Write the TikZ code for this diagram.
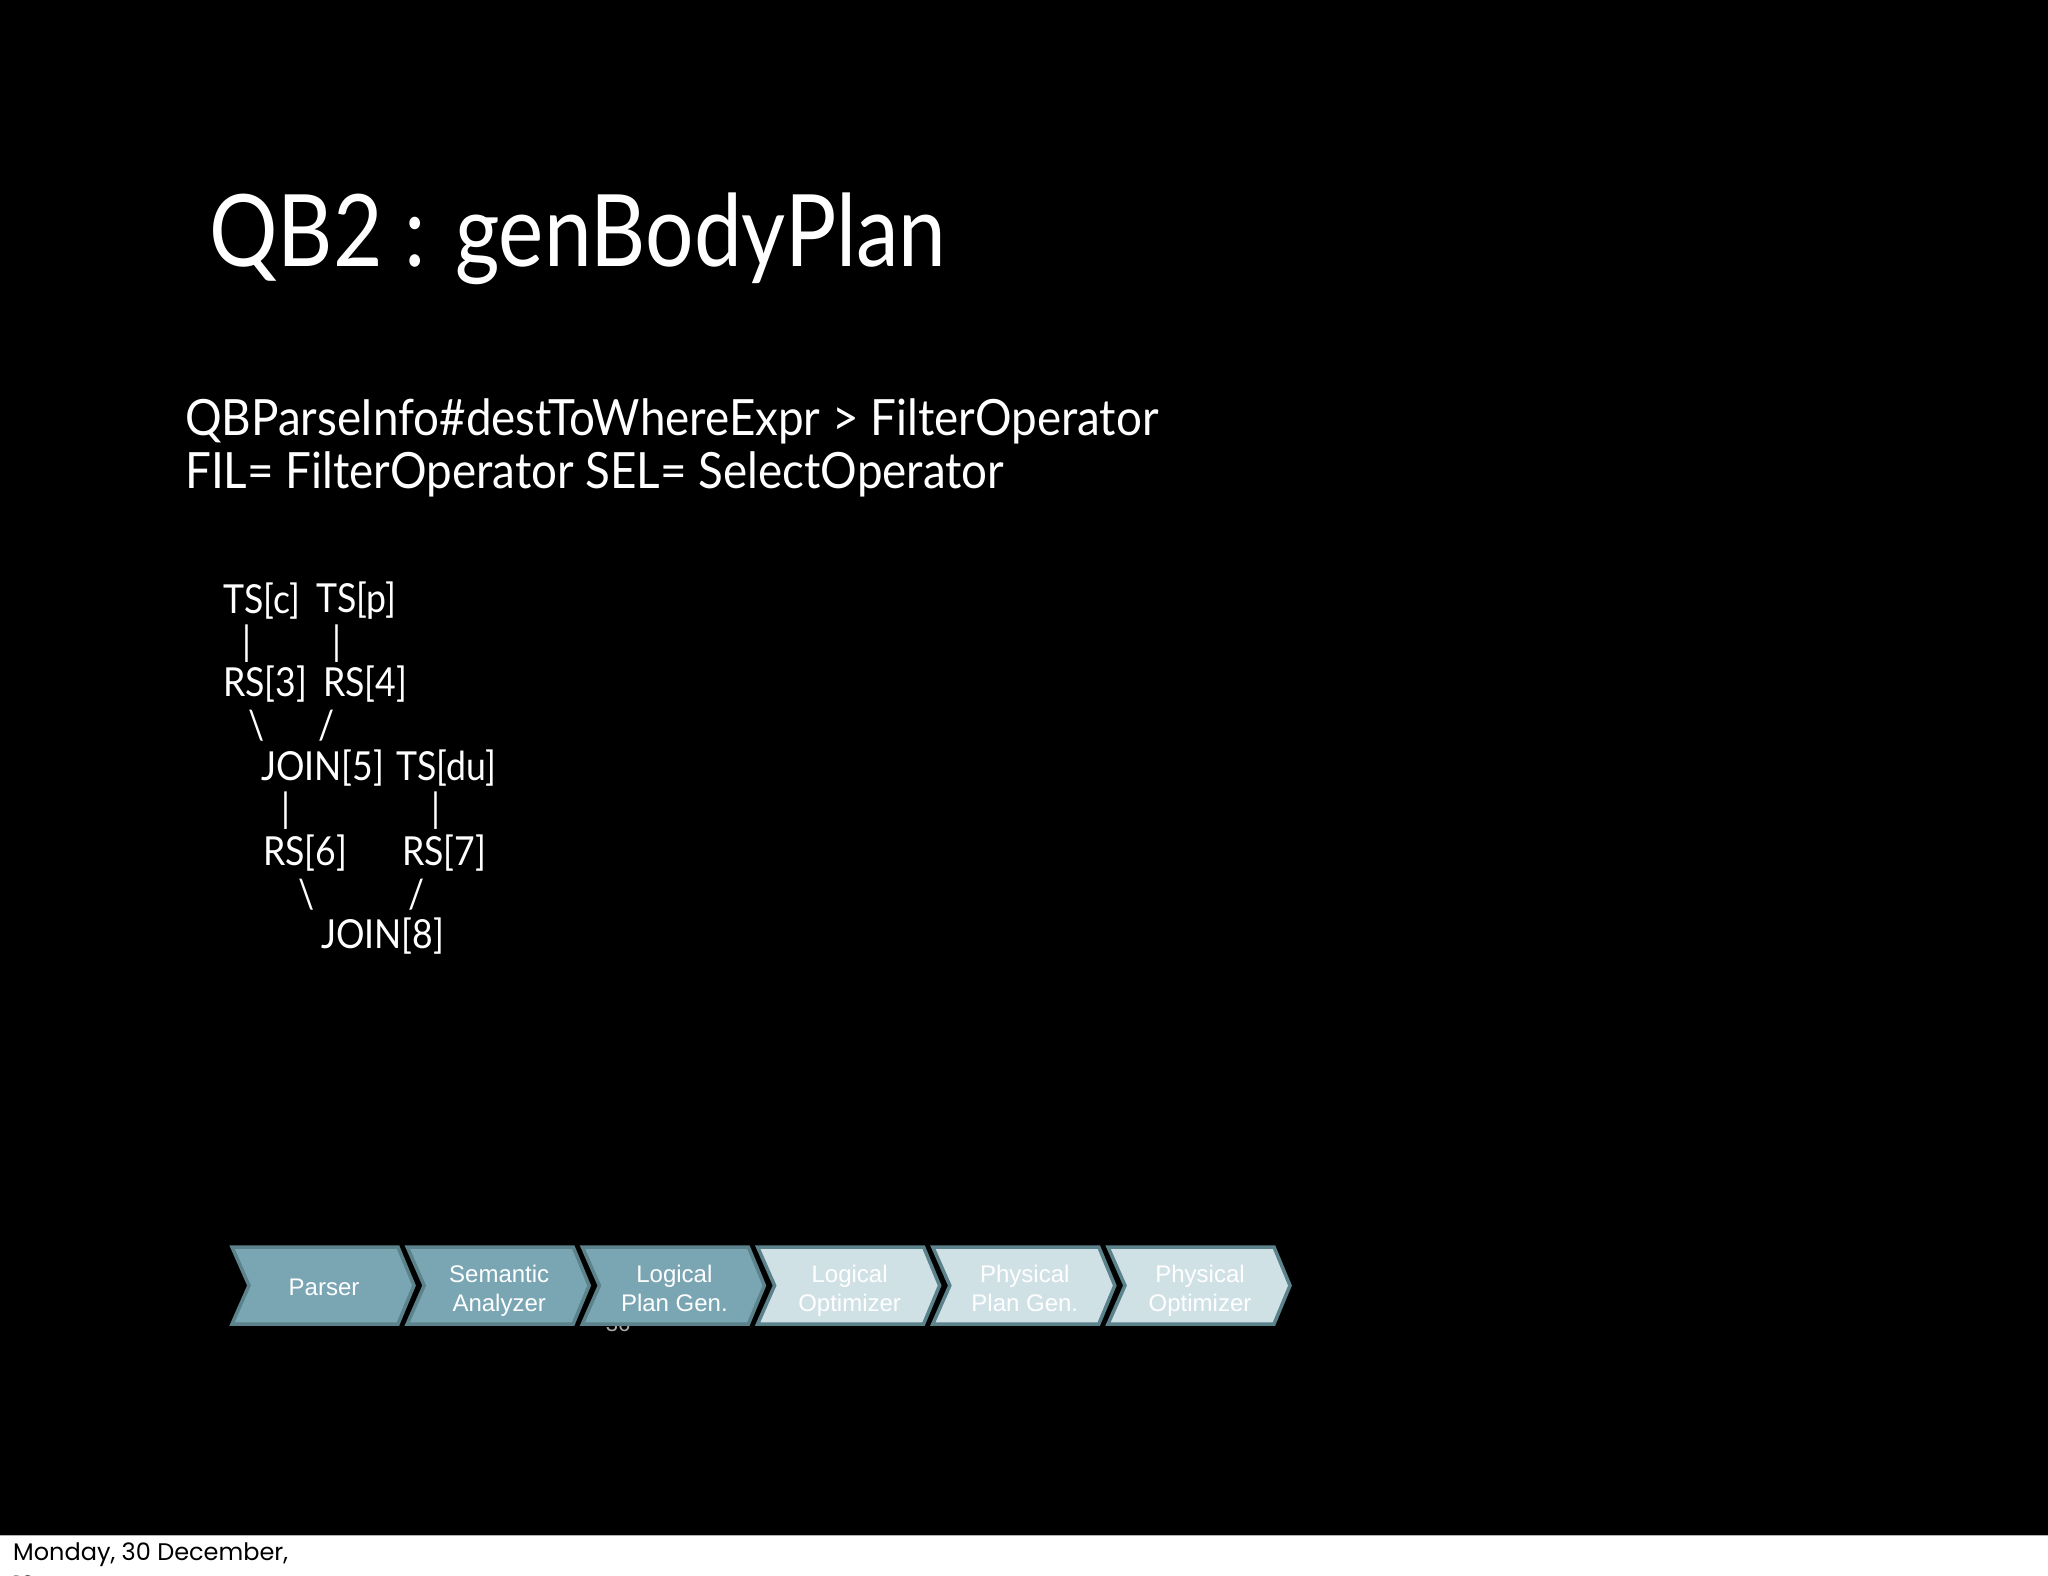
\documentclass[tikz,border=0pt]{standalone}
\usepackage{fontspec}
\setmainfont{Lato}
\newfontfamily\titlefont{Lato}[FakeStretch=0.855]
\newfontfamily\bodyfont{Lato}[FakeStretch=0.915]
\newfontfamily\treefont{Lato}[FakeStretch=0.89]
\newfontfamily\arialfont{Liberation Sans}
\newfontfamily\footfont{Poppins}
\definecolor{chevdark}{RGB}{122,166,179}
\definecolor{chevlight}{RGB}{208,225,230}
\definecolor{chevedge}{RGB}{92,130,140}
\definecolor{pagegray}{RGB}{170,170,170}
\tikzset{
  titletext/.style={text=white, inner sep=0pt, anchor=base west, font=\titlefont\fontsize{100}{110}\selectfont},
  bodytext/.style={text=white, inner sep=0pt, anchor=base west, font=\bodyfont\fontsize{50}{60}\selectfont},
  treetext/.style={text=white, inner sep=0pt, anchor=west, font=\treefont\fontsize{40}{48}\selectfont},
  treelink/.style={text=white, inner sep=0pt, anchor=center, font=\treefont\fontsize{40}{48}\selectfont},
  chevtext/.style={text=white, inner sep=0pt, align=center, font=\arialfont\fontsize{24}{29}\selectfont},
  chevshape/.style={line width=3.5pt, draw=chevedge, line join=miter},
  foottext/.style={text=black, inner sep=0pt, anchor=base west, font=\footfont\fontsize{24}{32}\selectfont},
}
\begin{document}
\begin{tikzpicture}[x=1pt,y=-1pt]
\useasboundingbox (0,0) rectangle (2048,1576);
\clip (0,0) rectangle (2048,1576);
\fill[black] (0,0) rectangle (2048,1535);
\fill[white] (0,1535) rectangle (2048,1576);
\draw[gray!60, line width=1pt] (0,1535) -- (2048,1535);

% title and body text
\node[titletext] (title) at (209,266) {QB2 : genBodyPlan};
\node[bodytext] (line1) at (185,435) {QBParseInfo\#destToWhereExpr > FilterOperator};
\node[bodytext] (line2) at (185,488) {FIL= FilterOperator SEL= SelectOperator};

% operator tree (printed as text)
\node[treetext] (tsc) at (223,601) {TS[c]};
\node[treetext] (tsp) at (316,601) {TS[p]};
\node[treelink] (l1) at (247,644) {|};
\node[treelink] (l2) at (337,644) {|};
\node[treetext] (rs3) at (223,684) {RS[3]};
\node[treetext] (rs4) at (323,684) {RS[4]};
\node[treelink] (l3) at (257,726) {\textbackslash};
\node[treelink] (l4) at (327,726) {/};
\node[treetext] (join5) at (261,768) {JOIN[5]};
\node[treetext] (tsdu) at (396,768) {TS[du]};
\node[treelink] (l5) at (286,811) {|};
\node[treelink] (l6) at (436,811) {|};
\node[treetext] (rs6) at (263,853) {RS[6]};
\node[treetext] (rs7) at (402,853) {RS[7]};
\node[treelink] (l7) at (307,895) {\textbackslash};
\node[treelink] (l8) at (417,895) {/};
\node[treetext] (join8) at (321,936) {JOIN[8]};

% page number partly hidden
\node[text=pagegray, inner sep=0pt, font=\arialfont\fontsize{22}{26}\selectfont] (pagenum) at (618,1324) {36};

% chevrons
\foreach \i/\col/\txt/\ty in {0/chevdark/Parser/1287,1/chevdark/{Semantic\strut\\Analyzer\strut}/1291,2/chevdark/{Logical\strut\\Plan Gen.\strut}/1291,3/chevlight/{Logical\strut\\Optimizer\strut}/1291,4/chevlight/{Physical\strut\\Plan Gen.\strut}/1291,5/chevlight/{Physical\strut\\Optimizer\strut}/1291}{
  \pgfmathsetmacro{\L}{232+175.2*\i}
  \filldraw[chevshape, fill=\col] (\L,1247) -- (\L+166,1247) -- (\L+182,1285.5) -- (\L+166,1324) -- (\L,1324) -- (\L+17,1285.5) -- cycle;
  \node[chevtext] (chev\i) at (\L+92,\ty) {\txt};
}

% footer
\node[foottext] (footer1) at (13,1560) {Monday, 30 December,};
\node[foottext] (footer2) at (13,1593) {12};
\end{tikzpicture}
\end{document}
